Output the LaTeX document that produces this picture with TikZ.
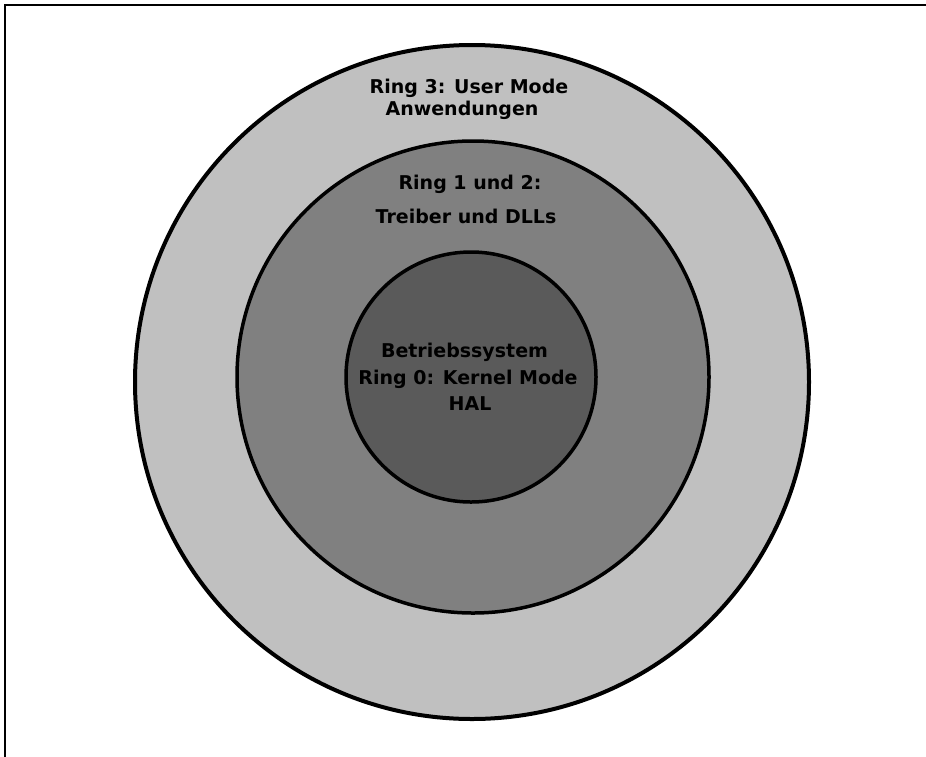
\documentclass[tikz,border=0pt]{standalone}
\usepackage{fontspec}
\setmainfont{DejaVu Sans}
\begin{document}
\begin{tikzpicture}[x=1pt,y=-1pt,
  ring/.style={circle, draw=black, inner sep=0pt},
  lbl/.style={font=\bfseries\fontsize{19}{22}\selectfont, text=black, inner sep=0pt, anchor=center}]
\useasboundingbox (0,0) rectangle (926,756);
\fill[white] (0,0) rectangle (926,756);
\draw[line width=1.5pt] (5,760) -- (5,5) -- (930,5);
\node[ring, line width=4pt, fill={rgb,255:red,192;green,192;blue,192}, minimum size=674pt] (outer) at (472,382) {};
\node[ring, line width=3.5pt, fill={rgb,255:red,128;green,128;blue,128}, minimum size=472pt] (middle) at (473,377) {};
\node[ring, line width=3.5pt, fill={rgb,255:red,90;green,90;blue,90}, minimum size=250pt] (inner) at (471,377) {};
\node[lbl] (t1) at (469,88) {Ring 3: User Mode};
\node[lbl] (t2) at (462,110) {Anwendungen};
\node[lbl] (t3) at (470,184) {Ring 1 und 2:};
\node[lbl] (t4) at (466,216) {Treiber und DLLs};
\node[lbl] (t5) at (464.5,352) {Betriebssystem};
\node[lbl] (t6) at (468,379) {Ring 0: Kernel Mode};
\node[lbl] (t7) at (470,404) {HAL};
\end{tikzpicture}
\end{document}
